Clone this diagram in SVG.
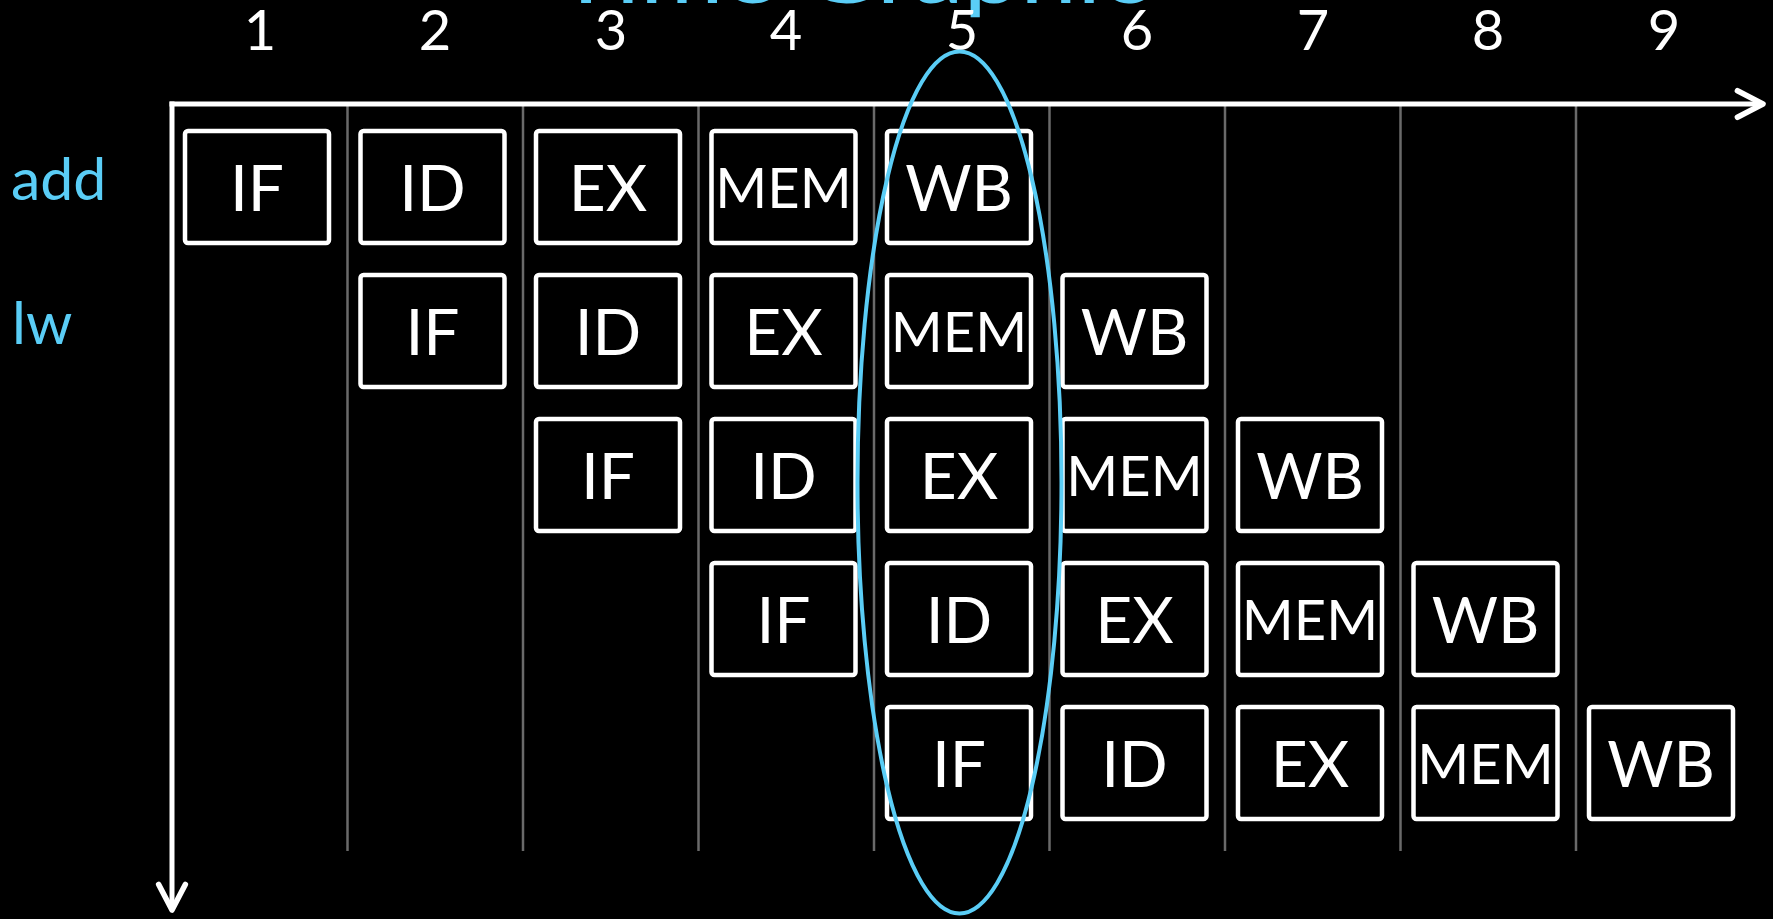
<svg xmlns="http://www.w3.org/2000/svg" width="1773" height="919" viewBox="0 0 1773 919">
<defs>
<style>
.bg{fill:#000}
.grid{stroke:#6a6a6a;stroke-width:2.5}
.axis{stroke:#fff;stroke-width:5;fill:none}
.box{fill:#000;stroke:#fff;stroke-width:4.5}
.st{font-family:Lato,"Open Sans",sans-serif;font-size:64px;fill:#fff;text-anchor:middle}
.mem{font-size:56px}
.num{font-family:Lato,"Open Sans",sans-serif;font-size:56px;fill:#fff;text-anchor:middle}
.lbl{font-family:Lato,"Open Sans",sans-serif;font-size:59px;fill:#5acdf6}
.title{font-family:Lato,"Open Sans",sans-serif;font-size:82px;fill:#5acdf6}
.hl{fill:none;stroke:#5acdf6;stroke-width:4}
</style>
<marker id="arr" markerUnits="userSpaceOnUse" markerWidth="40" markerHeight="40" viewBox="-30 -16 36 32" refX="0" refY="0" orient="auto">
<path d="M -23 -12 L 0 0 L -23 12" fill="none" stroke="#fff" stroke-width="5" stroke-linecap="round" stroke-linejoin="round"/>
</marker>
</defs>
<rect class="bg" x="0" y="0" width="1773" height="919"/>
<text class="title" x="556" y="3" textLength="594" lengthAdjust="spacingAndGlyphs">Time Graphic</text>
<g id="cycle-numbers">
<text class="num" x="260" y="50">1</text>
<text class="num" x="435" y="50">2</text>
<text class="num" x="611" y="50">3</text>
<text class="num" x="786" y="50">4</text>
<text class="num" x="962" y="50">5</text>
<text class="num" x="1137" y="50">6</text>
<text class="num" x="1313" y="50">7</text>
<text class="num" x="1488" y="50">8</text>
<text class="num" x="1664" y="50">9</text>
</g>
<g id="grid">
<line class="grid" x1="347.5" y1="104" x2="347.5" y2="851"/>
<line class="grid" x1="523" y1="104" x2="523" y2="851"/>
<line class="grid" x1="698.5" y1="104" x2="698.5" y2="851"/>
<line class="grid" x1="874" y1="104" x2="874" y2="851"/>
<line class="grid" x1="1049.5" y1="104" x2="1049.5" y2="851"/>
<line class="grid" x1="1225" y1="104" x2="1225" y2="851"/>
<line class="grid" x1="1400.5" y1="104" x2="1400.5" y2="851"/>
<line class="grid" x1="1576" y1="104" x2="1576" y2="851"/>
</g>
<g id="connectors">
<line class="axis" x1="169.5" y1="104" x2="1763" y2="104" marker-end="url(#arr)"/>
<line class="axis" x1="172" y1="101.5" x2="172" y2="910" marker-end="url(#arr)"/>
</g>
<g id="label-add"><text class="lbl" x="11" y="200">add</text></g>
<g id="label-lw"><text class="lbl" x="12" y="344">lw</text></g>

<g id="i1-IF"><rect class="box" x="185" y="131" width="144" height="112" rx="3"/><text class="st" x="257" y="211">IF</text></g>
<g id="i1-ID"><rect class="box" x="360.5" y="131" width="144" height="112" rx="3"/><text class="st" x="432.5" y="211">ID</text></g>
<g id="i1-EX"><rect class="box" x="536" y="131" width="144" height="112" rx="3"/><text class="st" x="608" y="211">EX</text></g>
<g id="i1-MEM"><rect class="box" x="711.5" y="131" width="144" height="112" rx="3"/><text class="st mem" x="783.5" y="208">MEM</text></g>
<g id="i1-WB"><rect class="box" x="887" y="131" width="144" height="112" rx="3"/><text class="st" x="959" y="211">WB</text></g>

<g id="i2-IF"><rect class="box" x="360.5" y="275" width="144" height="112" rx="3"/><text class="st" x="432.5" y="355">IF</text></g>
<g id="i2-ID"><rect class="box" x="536" y="275" width="144" height="112" rx="3"/><text class="st" x="608" y="355">ID</text></g>
<g id="i2-EX"><rect class="box" x="711.5" y="275" width="144" height="112" rx="3"/><text class="st" x="783.5" y="355">EX</text></g>
<g id="i2-MEM"><rect class="box" x="887" y="275" width="144" height="112" rx="3"/><text class="st mem" x="959" y="352">MEM</text></g>
<g id="i2-WB"><rect class="box" x="1062.5" y="275" width="144" height="112" rx="3"/><text class="st" x="1134.5" y="355">WB</text></g>

<g id="i3-IF"><rect class="box" x="536" y="419" width="144" height="112" rx="3"/><text class="st" x="608" y="499">IF</text></g>
<g id="i3-ID"><rect class="box" x="711.5" y="419" width="144" height="112" rx="3"/><text class="st" x="783.5" y="499">ID</text></g>
<g id="i3-EX"><rect class="box" x="887" y="419" width="144" height="112" rx="3"/><text class="st" x="959" y="499">EX</text></g>
<g id="i3-MEM"><rect class="box" x="1062.5" y="419" width="144" height="112" rx="3"/><text class="st mem" x="1134.5" y="496">MEM</text></g>
<g id="i3-WB"><rect class="box" x="1238" y="419" width="144" height="112" rx="3"/><text class="st" x="1310" y="499">WB</text></g>

<g id="i4-IF"><rect class="box" x="711.5" y="563" width="144" height="112" rx="3"/><text class="st" x="783.5" y="643">IF</text></g>
<g id="i4-ID"><rect class="box" x="887" y="563" width="144" height="112" rx="3"/><text class="st" x="959" y="643">ID</text></g>
<g id="i4-EX"><rect class="box" x="1062.5" y="563" width="144" height="112" rx="3"/><text class="st" x="1134.5" y="643">EX</text></g>
<g id="i4-MEM"><rect class="box" x="1238" y="563" width="144" height="112" rx="3"/><text class="st mem" x="1310" y="640">MEM</text></g>
<g id="i4-WB"><rect class="box" x="1413.5" y="563" width="144" height="112" rx="3"/><text class="st" x="1485.5" y="643">WB</text></g>

<g id="i5-IF"><rect class="box" x="887" y="707" width="144" height="112" rx="3"/><text class="st" x="959" y="787">IF</text></g>
<g id="i5-ID"><rect class="box" x="1062.5" y="707" width="144" height="112" rx="3"/><text class="st" x="1134.5" y="787">ID</text></g>
<g id="i5-EX"><rect class="box" x="1238" y="707" width="144" height="112" rx="3"/><text class="st" x="1310" y="787">EX</text></g>
<g id="i5-MEM"><rect class="box" x="1413.5" y="707" width="144" height="112" rx="3"/><text class="st mem" x="1485.5" y="784">MEM</text></g>
<g id="i5-WB"><rect class="box" x="1589" y="707" width="144" height="112" rx="3"/><text class="st" x="1661" y="787">WB</text></g>

<g id="cycle5-highlight"><ellipse class="hl" cx="959.5" cy="482.5" rx="102" ry="431"/></g>
</svg>
